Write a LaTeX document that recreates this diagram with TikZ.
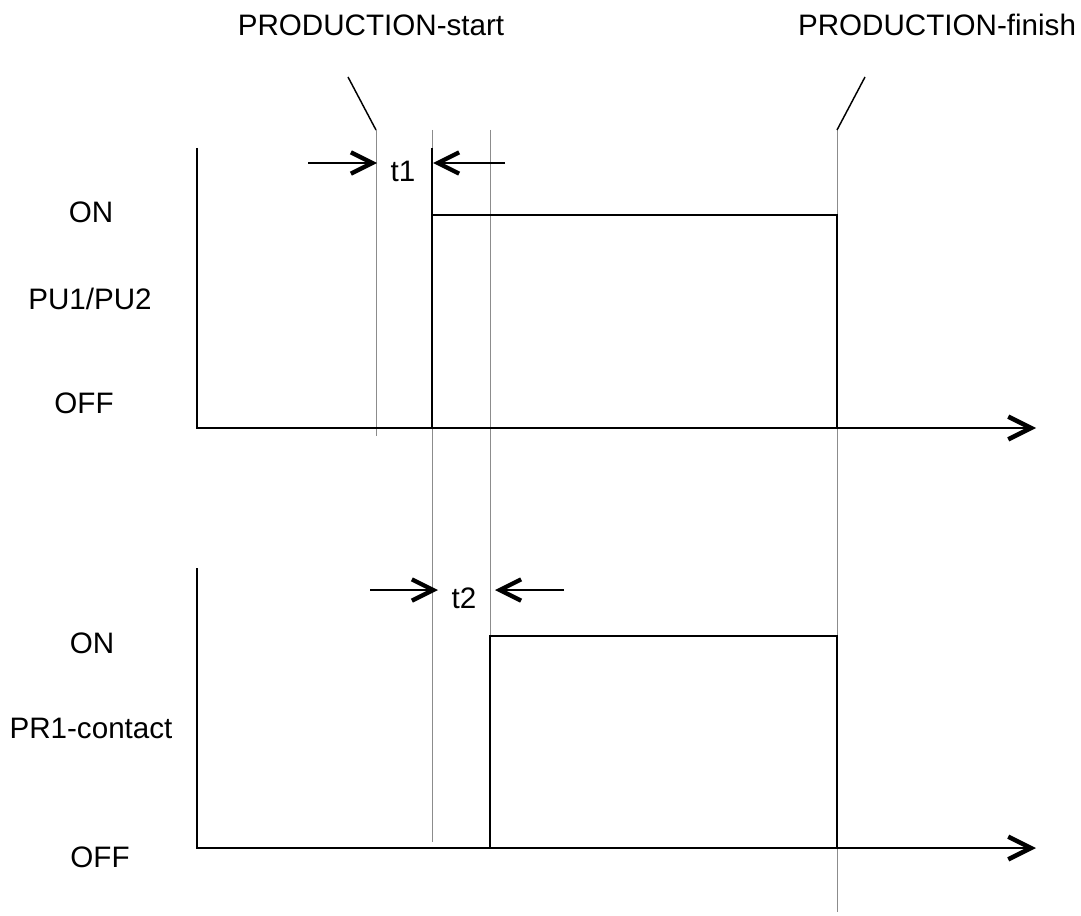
\documentclass[tikz,border=0pt]{standalone}
\usepackage{fontspec}
\setmainfont{Liberation Sans}
\usetikzlibrary{arrows.meta}

\begin{document}
\begin{tikzpicture}[x=0.75pt,y=-0.75pt,
  label node/.style={inner sep=0pt, font=\fontsize{22.2}{26}\selectfont},
  axis line/.style={line width=1.9pt, -{Straight Barb[length=17pt,width=17pt,line width=3.4pt]}},
  signal line/.style={line width=1.3pt},
  mark line/.style={line width=0.6pt, draw=black!45},
  pointer line/.style={line width=1.1pt},
  dim arrow/.style={line width=1.2pt, -{Straight Barb[length=16pt,width=16pt,line width=3.2pt]}}]
  \useasboundingbox (0,0) rectangle (1081,916);
  % points of the upper graph
  \coordinate (a0) at (197, 148);
  \coordinate (a1) at (197, 428);
  \coordinate (a2) at (1036, 428);
  % points of the lower graph
  \coordinate (b0) at (197, 568);
  \coordinate (b1) at (197, 848);
  \coordinate (b2) at (1036, 848);
  % marker lines
  \coordinate (m1t) at (376, 130);
  \coordinate (m1b) at (376, 436);
  \coordinate (m2t) at (432, 130);
  \coordinate (m2b) at (432, 842);
  \coordinate (m3t) at (490, 130);
  \coordinate (m3b) at (490, 848);
  \coordinate (m4t) at (837, 130);
  \coordinate (m4b) at (837, 912);
  \coordinate (p1) at (348, 77);
  \coordinate (p2) at (865, 77);
  % texts
  \node[label node] (start) at (371, 25) {PRODUCTION-start};
  \node[label node] (finish) at (937, 25) {PRODUCTION-finish};
  \node[label node] (on1) at (91, 212) {ON};
  \node[label node] (pu) at (90, 299) {PU1/PU2};
  \node[label node] (off1) at (84, 403) {OFF};
  \node[label node] (on2) at (92, 643) {ON};
  \node[label node] (pr) at (91, 728) {PR1-contact};
  \node[label node] (off2) at (100, 857) {OFF};
  \node[label node] (t1) at (403, 171) {t1};
  \node[label node] (t2) at (464, 598) {t2};
  % dimension arrows
  \coordinate (t1l) at (308, 163);
  \coordinate (t1r) at (505, 163);
  \coordinate (t2l) at (370, 590);
  \coordinate (t2r) at (564, 590);

  \draw[mark line] (m1t) -- (m1b);
  \draw[mark line] (m2t) -- (m2b);
  \draw[mark line] (m3t) -- (m3b);
  \draw[mark line] (m4t) -- (m4b);
  \draw[pointer line] (p1) -- (m1t);
  \draw[pointer line] (p2) -- (m4t);

  \draw[axis line] (a0) -- (a1) -- (a2);
  \draw[axis line] (b0) -- (b1) -- (b2);

  \draw[signal line] (432, 148) -- (432, 428);
  \draw[signal line] (432, 215) -- (837, 215) -- (837, 428);
  \draw[signal line] (370, 848) -- (490, 848) -- (490, 636) -- (837, 636)
    -- (837, 848) -- (930, 848);

  \draw[dim arrow] (t1l) -- (377, 163);
  \draw[dim arrow] (t1r) -- (433, 163);
  \draw[dim arrow] (t2l) -- (438, 590);
  \draw[dim arrow] (t2r) -- (495, 590);
\end{tikzpicture}
\end{document}
